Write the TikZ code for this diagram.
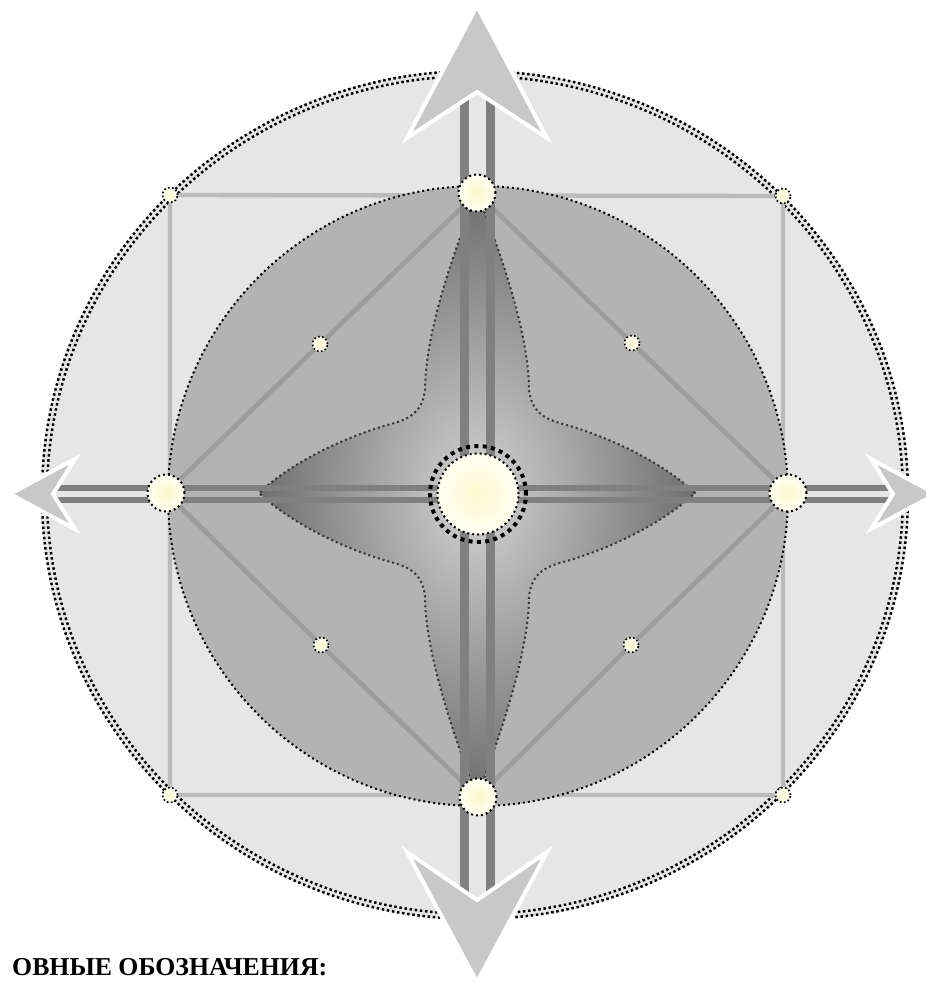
\documentclass[tikz,border=0pt]{standalone}
\usepackage{fontspec}
\setmainfont{Liberation Serif}
\usetikzlibrary{backgrounds}
\definecolor{ringfill}{HTML}{E6E6E6}
\definecolor{discfill}{HTML}{B3B3B3}
\definecolor{squareline}{HTML}{BBBBBB}
\definecolor{diagline}{HTML}{9C9C9C}
\definecolor{barline}{HTML}{808080}
\definecolor{arrowfill}{HTML}{C8C8C8}
\definecolor{starin}{HTML}{D4D4D4}
\definecolor{starout}{HTML}{6E6E6E}
\definecolor{nodein}{HTML}{FBF8CC}
\definecolor{nodeout}{HTML}{FFFFF4}
\tikzset{
  dotline/.style={draw=black, line width=0.6mm, dash pattern=on 0.6mm off 0.9mm},
  ringline/.style={draw=black, line width=0.75mm, dash pattern=on 0.75mm off 0.8mm},
  dotnode/.style={circle, inner sep=0pt, dotline, inner color=nodein, outer color=nodeout},
  bignode/.style={dotnode, minimum size=11.1mm},
  smallnode/.style={dotnode, minimum size=4.5mm, line width=0.5mm, dash pattern=on 0.5mm off 0.7mm},
  hubnode/.style={dotnode, minimum size=24.3mm},
  hubring/.style={circle, inner sep=0pt, minimum size=28.8mm, draw=black, line width=1.2mm, dash pattern=on 1.2mm off 1.3mm},
  squareside/.style={draw=squareline, line width=1.3mm},
  diag/.style={draw=diagline, line width=1.4mm},
  vbar/.style={draw=barline, line width=2.7mm},
  hbar/.style={draw=barline, line width=1.8mm},
  arrowhead/.style={fill=arrowfill, draw=white, line width=1.2mm},
  legend/.style={inner sep=0pt, font=\bfseries\fontsize{22}{26}\selectfont},
}
\begin{document}
\begin{tikzpicture}[x=0.3mm, y=-0.3mm]
  \useasboundingbox (0,0) rectangle (926,982);
  % corner and midpoint dots
  \node[smallnode] (ctl) at (170,195) {};
  \node[smallnode] (ctr) at (783,196) {};
  \node[smallnode] (cbr) at (783,795) {};
  \node[smallnode] (cbl) at (170,795) {};
  \node[smallnode] (dtl) at (320,344) {};
  \node[smallnode] (dtr) at (632,343) {};
  \node[smallnode] (dbl) at (321,645) {};
  \node[smallnode] (dbr) at (631,645) {};
  % main nodes
  \node[bignode] (top) at (477,193) {};
  \node[bignode] (bottom) at (478,797) {};
  \node[bignode] (left) at (166,493) {};
  \node[bignode] (right) at (788,493) {};
  \node[hubring] (hubring) at (478,494) {};
  \node[hubnode] (hub) at (478,494) {};
  % arrow notches
  \coordinate (ntop) at (477,92);
  \coordinate (nbot) at (477,900);
  \coordinate (nleft) at (53,494);
  \coordinate (nright) at (893,494);
  \node[legend, anchor=base west] (legend) at (12,975) {ОВНЫЕ ОБОЗНАЧЕНИЯ:};
  \begin{scope}[on background layer]
    \clip (0,0) rectangle (926,982);
    \fill[ringfill] (475,495) ellipse [x radius=434, y radius=425];
    \draw[ringline] (475,495) ellipse [x radius=433, y radius=424];
    \draw[ringline] (475,495) ellipse [x radius=428, y radius=419];
    \draw[squareside] (ctl) -- (ctr) -- (cbr) -- (cbl) -- (ctl);
    \draw[dotline, fill=discfill] (478,496) circle [radius=310];
    \draw[diag] (top) -- (dtl) -- (left) -- (dbl) -- (bottom) -- (dbr) -- (right) -- (dtr) -- (top);
    % star
    \begin{scope}[shift={(477,493)}]
      \draw[dotline, draw=black!80, inner color=starin, outer color=starout]
        (0,-300) .. controls (32,-220) and (52,-150) .. (52,-103)
        .. controls (55,-82) and (65,-74) .. (90,-68)
        .. controls (150,-50) and (195,-22) .. (218,0)
        .. controls (195,22) and (150,50) .. (90,68)
        .. controls (65,74) and (55,82) .. (52,103)
        .. controls (52,150) and (32,220) .. (0,304)
        .. controls (-32,220) and (-52,150) .. (-52,103)
        .. controls (-55,82) and (-65,74) .. (-90,68)
        .. controls (-150,50) and (-195,22) .. (-218,0)
        .. controls (-195,-22) and (-150,-50) .. (-90,-68)
        .. controls (-65,-74) and (-55,-82) .. (-52,-103)
        .. controls (-52,-150) and (-32,-220) .. (0,-300) -- cycle;
    \end{scope}
    % axis bars
    \draw[vbar] ([xshift=-3.9mm]ntop) -- ([xshift=-3.9mm]nbot);
    \draw[vbar] ([xshift=3.9mm]ntop) -- ([xshift=3.9mm]nbot);
    \draw[hbar] ([yshift=1.9mm]nleft) -- ([yshift=1.9mm]nright);
    \draw[hbar] ([yshift=-1.9mm]nleft) -- ([yshift=-1.9mm]nright);
    % arrow heads
    \draw[arrowhead] (ntop) -- ++(70,46) -- ++(-70,-132) -- ++(-70,132) -- cycle;
    \draw[arrowhead] (nbot) -- ++(70,-48) -- ++(-70,130) -- ++(-70,-130) -- cycle;
    \draw[arrowhead] (nleft) -- ++(22,-35) -- ++(-65,35) -- ++(65,35) -- cycle;
    \draw[arrowhead] (nright) -- ++(-22,-35) -- ++(65,35) -- ++(-65,35) -- cycle;
  \end{scope}
\end{tikzpicture}
\end{document}
